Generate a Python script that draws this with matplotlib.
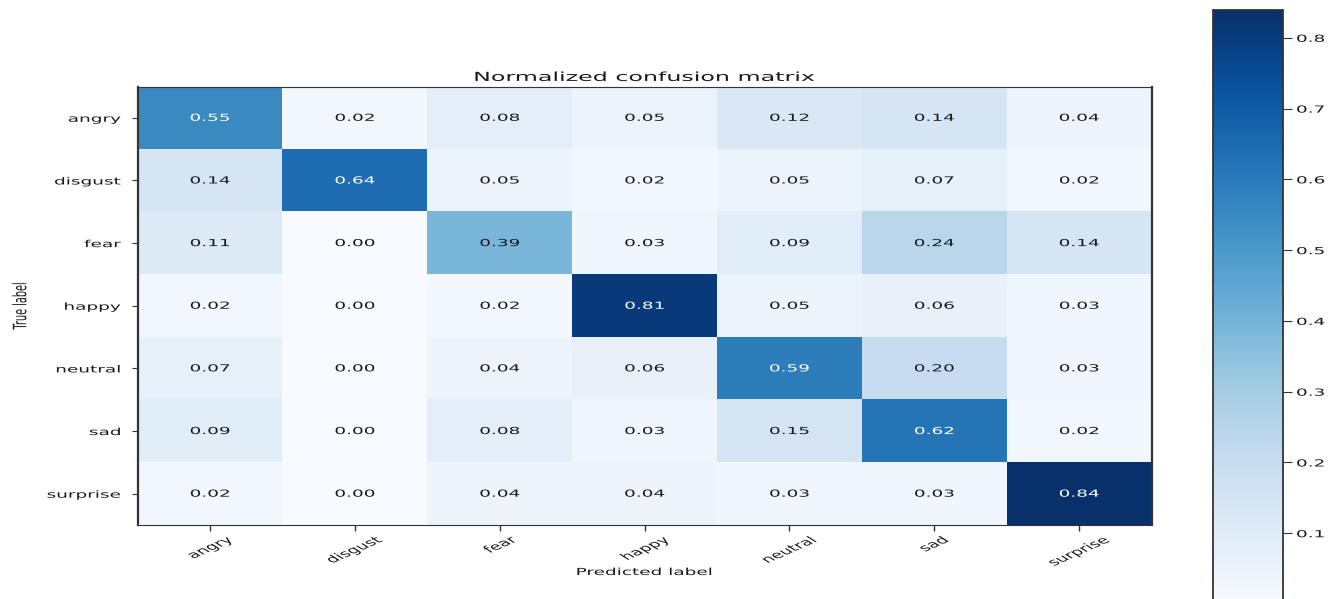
import numpy as np
import matplotlib
matplotlib.use("Agg")
import matplotlib.pyplot as plt
from matplotlib import patheffects
from matplotlib.transforms import Affine2D

# Class names (rows: true label, columns: predicted label)
classes = ["angry", "disgust", "fear", "happy", "neutral", "sad", "surprise"]

# Row-normalized confusion matrix values
row_angry = [0.55, 0.02, 0.08, 0.05, 0.12, 0.14, 0.04]
row_disgust = [0.14, 0.64, 0.05, 0.02, 0.05, 0.07, 0.02]
row_fear = [0.11, 0.00, 0.39, 0.03, 0.09, 0.24, 0.14]
row_happy = [0.02, 0.00, 0.02, 0.81, 0.05, 0.06, 0.03]
row_neutral = [0.07, 0.00, 0.04, 0.06, 0.59, 0.20, 0.03]
row_sad = [0.09, 0.00, 0.08, 0.03, 0.15, 0.62, 0.02]
row_surprise = [0.02, 0.00, 0.04, 0.04, 0.03, 0.03, 0.84]

colorbar_ticks = [0.1, 0.2, 0.3, 0.4, 0.5, 0.6, 0.7, 0.8]

cm = np.array([row_angry, row_disgust, row_fear, row_happy,
               row_neutral, row_sad, row_surprise])

# Horizontal widening applied to all text glyphs
SX = 1.9
FS = 7.0


class HStretch(patheffects.AbstractPathEffect):
    """Widen text horizontally in display space about a chosen anchor."""

    def __init__(self, sx, anchor="center"):
        super().__init__()
        self.sx = sx
        self.anchor = anchor

    def draw_path(self, renderer, gc, tpath, affine, rgbFace=None):
        ext = affine.transform_path(tpath).get_extents()
        if self.anchor == "left":
            ax_x = ext.x0
        elif self.anchor == "right":
            ax_x = ext.x1
        else:
            ax_x = 0.5 * (ext.x0 + ext.x1)
        stretch = Affine2D().translate(-ax_x, 0).scale(self.sx, 1).translate(ax_x, 0)
        renderer.draw_path(gc, tpath, affine + stretch, rgbFace)


W, H = 1329, 599
fig = plt.figure(figsize=(W / 100, H / 100), dpi=100)
fig.patch.set_facecolor("white")


def frac_box(x0, y0, x1, y1):
    return [x0 / W, 1 - y1 / H, (x1 - x0) / W, (y1 - y0) / H]


ax = fig.add_axes(frac_box(137.5, 86.5, 1151.5, 525))
cax = fig.add_axes(frac_box(1213, 9.5, 1282.5, 604))

vmax = cm.max()
im = ax.imshow(cm, interpolation="nearest", cmap="Blues", vmin=0.0, vmax=vmax,
               aspect="auto")

thresh = vmax / 2.0
for i in range(cm.shape[0]):
    for j in range(cm.shape[1]):
        ax.text(j, i, f"{cm[i, j]:.2f}", ha="center", va="center",
                fontsize=FS, color="white" if cm[i, j] > thresh else "#1a1a1a",
                path_effects=[HStretch(SX, "center")])

ticks = np.arange(len(classes))
ax.set_xticks(ticks)
ax.set_xticklabels(classes, rotation=40, ha="center", fontsize=FS)
ax.set_yticks(ticks)
ax.set_yticklabels(classes, fontsize=FS)
ax.tick_params(axis="x", length=4, width=1.0, pad=3.0, color="#333333")
ax.tick_params(axis="y", length=4, width=0.8, pad=8, color="#333333")

for side in ("left", "right"):
    ax.spines[side].set_linewidth(1.6)
for side in ("top", "bottom"):
    ax.spines[side].set_linewidth(0.8)
for sp in ax.spines.values():
    sp.set_color("#333333")

title = ax.set_title("Normalized confusion matrix", fontsize=9.0, pad=4,
                     color="#1a1a1a")
title.set_path_effects([HStretch(SX, "center")])

ax.set_xlabel("Predicted label", fontsize=FS, color="#1a1a1a")
ax.set_ylabel("True label", fontsize=FS, color="#1a1a1a")
ax.xaxis.label.set_va("center")
ax.yaxis.label.set_va("center")
ax.xaxis.set_label_coords(0.5, (525 - 572) / (525 - 86.5))
ax.yaxis.set_label_coords((20 - 137.5) / (1151.5 - 137.5), 0.5)
ax.xaxis.label.set_path_effects([HStretch(SX, "center")])
ax.yaxis.label.set_path_effects([HStretch(SX, "center")])

cbar = fig.colorbar(im, cax=cax)
cbar.set_ticks(colorbar_ticks)
cbar.set_ticklabels([f"{t:.1f}" for t in colorbar_ticks])
cax.tick_params(length=6.5, width=0.8, pad=3.6, labelsize=FS, color="#333333")
cbar.outline.set_linewidth(1.3)
cbar.outline.set_edgecolor("#333333")

fig.canvas.draw()
for lbl in ax.get_xticklabels():
    lbl.set_path_effects([HStretch(SX, "center")])
    lbl.set_color("#1a1a1a")
for lbl in ax.get_yticklabels():
    lbl.set_path_effects([HStretch(SX, "right")])
    lbl.set_color("#1a1a1a")
for lbl in cax.get_yticklabels():
    lbl.set_path_effects([HStretch(SX, "left")])
    lbl.set_color("#1a1a1a")

fig.savefig("out.png", dpi=100, facecolor="white")
